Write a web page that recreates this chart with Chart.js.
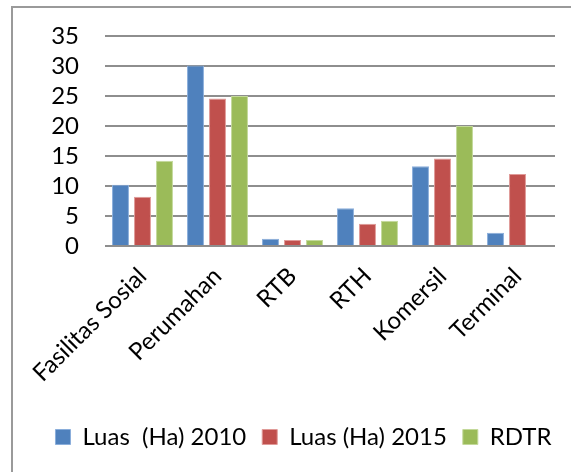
<!DOCTYPE html>
<html>
<head>
<meta charset="utf-8">
<script src="https://cdn.jsdelivr.net/npm/chart.js@4/dist/chart.umd.min.js"></script>
<style>
  html, body { margin: 0; padding: 0; background: #fff; }
  #wrap { position: relative; width: 571px; height: 472px; overflow: hidden; }
  #frame { position: absolute; left: 11px; top: 6px; right: -10px; bottom: -10px;
           border-top: 2px solid #9a9a9a; border-left: 2px solid #9a9a9a; pointer-events: none; }
  canvas { position: absolute; left: 0; top: 0; }
</style>
</head>
<body>
<div id="wrap">
  <canvas id="c" width="571" height="472"></canvas>
  <div id="frame"></div>
</div>
<script>
const categories = ["Fasilitas Sosial", "Perumahan", "RTB", "RTH", "Komersil", "Terminal"];
const seriesNames = ["Luas  (Ha) 2010", "Luas (Ha) 2015", "RDTR"];
const luas2010 = [10.2, 30.1, 1.2, 6.3, 13.3, 2.2];
const luas2015 = [8.2, 24.6, 1.0, 3.7, 14.6, 12.0];
const rdtr = [14.2, 25.0, 1.0, 4.2, 20.0, 0];
const yTicks = [0, 5, 10, 15, 20, 25, 30, 35];

const FONT = "Lato";
const FS = 24;
const ctx = document.getElementById("c").getContext("2d");
new Chart(ctx, {
  type: "bar",
  data: {
    labels: categories,
    datasets: [
      { label: seriesNames[0], data: luas2010, backgroundColor: "#4F81BD", borderColor: "#8aaedb", borderWidth: 1 },
      { label: seriesNames[1], data: luas2015, backgroundColor: "#C0504D", borderColor: "#e09a98", borderWidth: 1 },
      { label: seriesNames[2], data: rdtr, backgroundColor: "#9BBB59", borderColor: "#c3d99a", borderWidth: 1 }
    ]
  },
  options: {
    responsive: false,
    animation: false,
    devicePixelRatio: 1,
    layout: { padding: { left: 36, right: 0, top: 36, bottom: 13 } },
    datasets: { bar: { categoryPercentage: 0.88, barPercentage: 0.77 } },
    plugins: {
      tooltip: { enabled: false },
      legend: {
        position: "bottom",
        labels: {
          color: "#000",
          font: { family: FONT, size: FS },
          boxWidth: 15, boxHeight: 15, padding: 16,
          useBorderRadius: false
        }
      }
    },
    scales: {
      x: {
        grid: { display: false },
        border: { display: false },
        ticks: {
          color: "#000", font: { family: FONT, size: FS },
          maxRotation: 45, minRotation: 45, padding: 8, autoSkip: false
        },
        afterFit: s => { s.height = 163; }
      },
      y: {
        min: 0, max: 35,
        afterBuildTicks: s => { s.ticks = yTicks.map(v => ({ value: v })); },
        grid: { color: "#8e8e8e", lineWidth: 2, drawTicks: false },
        border: { display: false },
        ticks: { color: "#000", font: { family: FONT, size: FS }, padding: 26, autoSkip: false },
        afterFit: s => { s.width = 69; s.paddingTop = 0; s.paddingBottom = 0; }
      },
      yRight: {
        position: "right",
        min: 0, max: 35,
        grid: { display: false },
        border: { display: false },
        ticks: { display: false },
        afterFit: s => { s.width = 16; s.paddingTop = 0; s.paddingBottom = 0; }
      }
    }
  }
});
</script>
</body>
</html>
